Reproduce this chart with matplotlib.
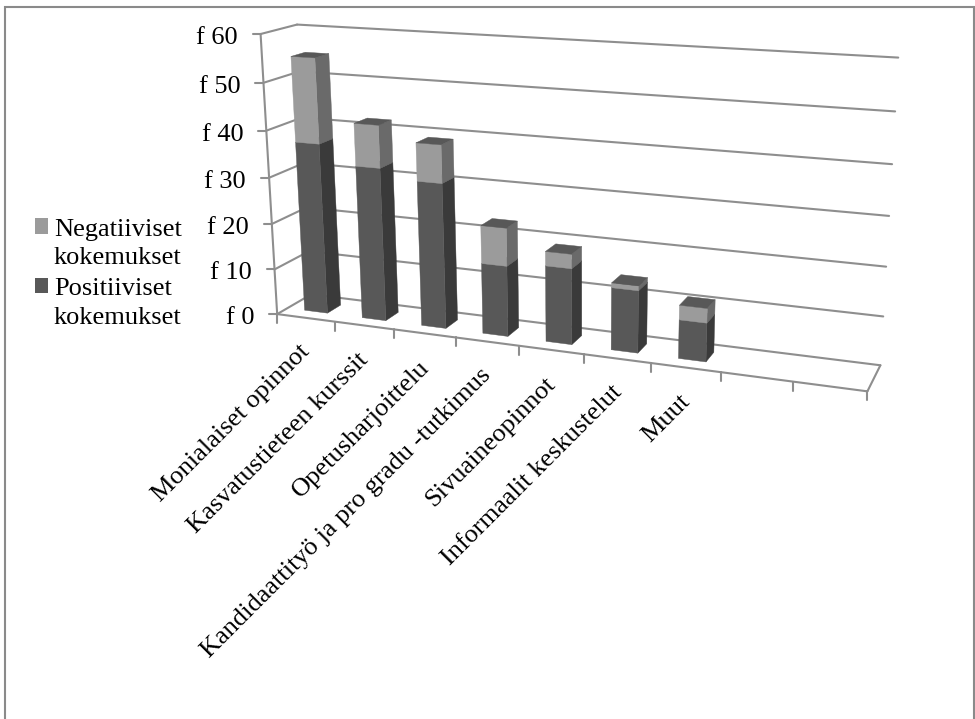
import numpy as np
from matplotlib import pyplot as plt
from matplotlib.patches import Patch, Polygon, Rectangle

categories = [
    'Monialaiset opinnot', 'Kasvatustieteen kurssit', 'Opetusharjoittelu',
    'Kandidaattityö ja pro gradu -tutkimus', 'Sivuaineopinnot',
    'Informaalit keskustelut', 'Muut', '', ''
]
positive = [37, 33, 31, 15, 16, 13, 8]
negative = [18, 9, 8, 8, 3, 1, 3]
value_ticks = [0, 10, 20, 30, 40, 50, 60]

GRID = '#8e8e8e'
POS_COLORS = {'front': '#585858', 'side': '#3a3a3a', 'top': '#4c4c4c'}
NEG_COLORS = {'front': '#9b9b9b', 'side': '#6a6a6a', 'top': '#585858'}
BAR_WIDTH = 0.4
DEPTH = (0.3, 0.7)
N_SLOTS = len(categories)

# corners of the chart box: (slot, value, depth) -> canvas position
box_world = np.array([
    [0, 0, 0], [0, 60, 0], [0, 0, 1], [0, 60, 1],
    [9, 0, 1], [9, 60, 1], [9, 0, 0], [0, 30, 0],
    [9, 30, 1], [4, 0, 0],
], dtype=float)
box_canvas = np.array([
    [278, 314], [261, 34], [311, 294.6], [297, 25],
    [880, 365], [898, 58], [867, 392], [268, 177],
    [890, 215], [519, 346],
], dtype=float)


def fit_camera(world, canvas):
    rows, rhs = [], []
    for (x, v, z), (u, w) in zip(world, canvas):
        rows.append([x, v, z, 1, 0, 0, 0, 0, -u * x, -u * v, -u * z])
        rows.append([0, 0, 0, 0, x, v, z, 1, -w * x, -w * v, -w * z])
        rhs += [u, w]
    sol = np.linalg.lstsq(np.array(rows), np.array(rhs), rcond=None)[0]
    return np.append(sol, 1).reshape(3, 4)


camera = fit_camera(box_world, box_canvas)


def project(x, v, z):
    h = camera @ np.array([x, v, z, 1.0])
    return h[0] / h[2], h[1] / h[2]


def draw_line(ax, a, b, lw=1.5, zorder=1):
    ax.plot([a[0], b[0]], [a[1], b[1]], color=GRID, lw=lw, zorder=zorder,
            solid_capstyle='round')


def draw_block(ax, x0, x1, v0, v1, colors, zorder):
    z0, z1 = DEPTH
    front = [project(x0, v0, z0), project(x1, v0, z0),
             project(x1, v1, z0), project(x0, v1, z0)]
    side = [project(x1, v0, z0), project(x1, v0, z1),
            project(x1, v1, z1), project(x1, v1, z0)]
    top = [project(x0, v1, z0), project(x1, v1, z0),
           project(x1, v1, z1), project(x0, v1, z1)]
    for pts, key in ((side, 'side'), (front, 'front'), (top, 'top')):
        ax.add_patch(Polygon(pts, closed=True, fc=colors[key], ec=colors[key],
                             lw=0.3, zorder=zorder))


plt.rcParams['font.family'] = ['Liberation Serif', 'DejaVu Serif']
fig = plt.figure(figsize=(9.75, 7.19), dpi=100)
ax = fig.add_axes([0, 0, 1, 1])
ax.set_xlim(0, 975)
ax.set_ylim(719, 0)
ax.axis('off')

# frame runs past the bottom of the canvas
ax.add_patch(Rectangle((5, 7), 969, 730, fc='white', ec='#8a8a8a', lw=1.5))

# walls
for val in value_ticks:
    draw_line(ax, project(0, val, 0), project(0, val, 1))
    draw_line(ax, project(0, val, 1), project(N_SLOTS, val, 1))
    px, py = project(0, val, 0)
    draw_line(ax, (px - 8, py), (px, py))
    ax.text(px - 23, py + 10, f'f {val}', ha='right', va='baseline', fontsize=19,
            color='black')
draw_line(ax, project(0, 0, 0), project(0, 60, 0))

# floor
draw_line(ax, project(0, 0, 0), project(N_SLOTS, 0, 0))
draw_line(ax, project(N_SLOTS, 0, 0), project(N_SLOTS, 0, 1))
for i in range(N_SLOTS + 1):
    px, py = project(i, 0, 0)
    draw_line(ax, (px, py), (px, py + 9))

for i, (pos, neg) in enumerate(zip(positive, negative)):
    x0 = i + (1 - BAR_WIDTH) / 2
    x1 = x0 + BAR_WIDTH
    draw_block(ax, x0, x1, 0, pos, POS_COLORS, 3 + i)
    draw_block(ax, x0, x1, pos, pos + neg, NEG_COLORS, 3 + i)

for i, label in enumerate(categories):
    if not label:
        continue
    px, py = project(i + 0.5, 0, 0)
    ax.text(px + 5, py + 35, label, rotation=45, rotation_mode='anchor',
            ha='right', va='baseline', fontsize=19, color='black')

handles = [Patch(fc=NEG_COLORS['front'], ec='none'),
           Patch(fc=POS_COLORS['front'], ec='none')]
leg = ax.legend(handles, ['Negatiiviset\nkokemukset', 'Positiiviset\nkokemukset'],
                loc='upper left', bbox_to_anchor=(35 / 975, 1 - 219 / 719),
                frameon=False, fontsize=19, handlelength=0.51, handleheight=0.51,
                handletextpad=0.21, labelspacing=0.34, borderpad=0, borderaxespad=0)
for t in leg.get_texts():
    t.set_linespacing(1.38)
# swatches sit level with the first line of each label
for h in leg.legend_handles:
    h.set_y(h.get_y() + 12.5)

fig.savefig('out.png', dpi=100)
